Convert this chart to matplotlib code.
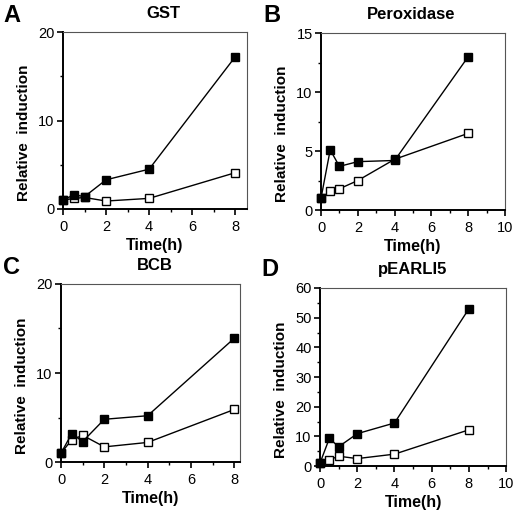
import matplotlib
matplotlib.use("Agg")
import matplotlib.pyplot as plt
from matplotlib.ticker import MultipleLocator

plt.rcParams['font.family'] = ['Liberation Sans', 'DejaVu Sans']

time = [0, 0.5, 1, 2, 4, 8]

gst_filled = [1.0, 1.6, 1.4, 3.3, 4.5, 17.2]
gst_open = [1.0, 1.2, 1.3, 0.9, 1.2, 4.1]

perox_filled = [1.0, 5.1, 3.7, 4.1, 4.2, 13.0]
perox_open = [1.0, 1.6, 1.8, 2.5, 4.3, 6.5]

bcb_filled = [1.0, 3.2, 2.3, 4.8, 5.2, 13.9]
bcb_open = [1.0, 2.5, 3.0, 1.7, 2.2, 5.9]

pearli_filled = [1.0, 9.3, 6.5, 10.9, 14.5, 53.0]
pearli_open = [1.0, 2.1, 3.3, 2.5, 4.0, 12.2]

W, H = 517.0, 513.0

panels = [
    dict(letter="A", title="GST", filled=gst_filled, open_=gst_open,
         pos=[0.1219, 0.5926, 0.356, 0.345], xlim=(0, 8.55), xt=[0, 2, 4, 6, 8],
         ylim=(0, 20), yt=[0, 10, 20], ymin=5, lpos=(3, 22), tx=0.543),
    dict(letter="B", title="Peroxidase", filled=perox_filled, open_=perox_open,
         pos=[0.6209, 0.5906, 0.356, 0.345], xlim=(0, 10), xt=[0, 2, 4, 6, 8, 10],
         ylim=(0, 15), yt=[0, 5, 10, 15], ymin=2.5, lpos=(263, 22), tx=0.49),
    dict(letter="C", title="BCB", filled=bcb_filled, open_=bcb_open,
         pos=[0.118, 0.0994, 0.346, 0.347], xlim=(0, 8.26), xt=[0, 2, 4, 6, 8],
         ylim=(0, 20), yt=[0, 10, 20], ymin=5, lpos=(3, 274), tx=0.525),
    dict(letter="D", title="pEARLI5", filled=pearli_filled, open_=pearli_open,
         pos=[0.619, 0.0916, 0.36, 0.347], xlim=(0, 10), xt=[0, 2, 4, 6, 8, 10],
         ylim=(0, 60), yt=[0, 10, 20, 30, 40, 50, 60], ymin=5, lpos=(261, 276), tx=0.5),
]

fig = plt.figure(figsize=(5.17, 5.13), dpi=100)

for p in panels:
    ax = fig.add_axes(p["pos"])
    ax.plot(time, p["open_"], color="black", lw=1.0, marker="s", ms=5.5,
            mfc="white", mec="black", mew=1.0, clip_on=False, zorder=3)
    ax.plot(time, p["filled"], color="black", lw=1.0, marker="s", ms=5.5,
            mfc="black", mec="black", clip_on=False, zorder=4)
    ax.set_xlim(*p["xlim"])
    ax.set_ylim(*p["ylim"])
    ax.set_xticks(p["xt"])
    ax.set_yticks(p["yt"])
    ax.xaxis.set_minor_locator(MultipleLocator(1))
    ax.yaxis.set_minor_locator(MultipleLocator(p["ymin"]))
    ax.tick_params(which="major", direction="out", length=4, width=1.2,
                   labelsize=10.5, pad=2, top=False, right=False)
    ax.tick_params(which="minor", direction="out", length=2.5, width=1.0,
                   top=False, right=False)
    ax.tick_params(axis="x", which="major", pad=4)
    for s in ["left", "bottom"]:
        ax.spines[s].set_linewidth(1.4)
        ax.spines[s].set_color("black")
    for s in ["top", "right"]:
        ax.spines[s].set_linewidth(0.8)
        ax.spines[s].set_color("#555555")
    ax.set_title(p["title"], fontsize=12, fontweight="bold", pad=10, x=p["tx"])
    ax.set_xlabel("Time(h)", fontsize=11.5, fontweight="bold", labelpad=3)
    ax.set_ylabel("Relative  induction", fontsize=11, fontweight="bold",
                  labelpad=5, y=0.43)
    fig.text(p["lpos"][0] / W, 1 - p["lpos"][1] / H, p["letter"], fontsize=17,
             fontweight="bold", ha="left", va="baseline")

fig.savefig("out.png", dpi=100)
